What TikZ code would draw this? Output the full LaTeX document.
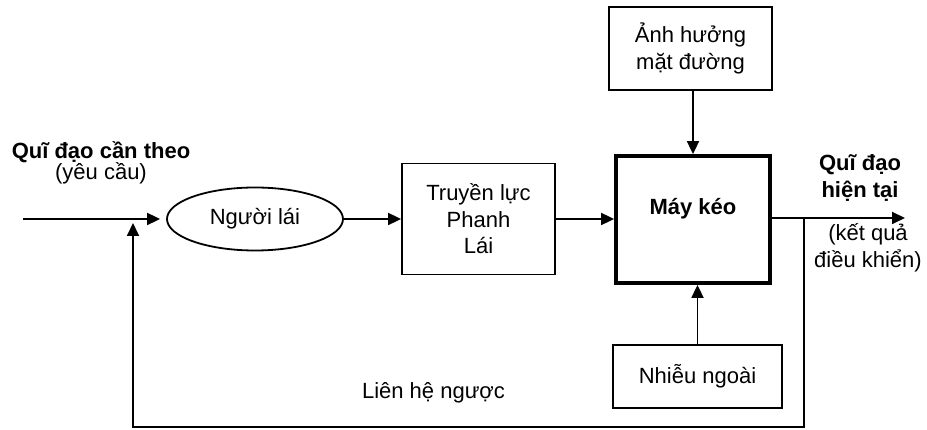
\documentclass[tikz,border=0pt]{standalone}
\usepackage{fontspec}
\setmainfont{Liberation Sans}
\usetikzlibrary{arrows.meta,shapes.geometric,calc}
\begin{document}
\begin{tikzpicture}[x=1pt,y=-1pt,
  every node/.style={font=\fontsize{22}{26.5}\selectfont, inner sep=0pt, align=center},
  blk/.style={draw, line width=1.8pt, rectangle},
  link/.style={line width=1.8pt, -{Triangle[length=13pt,width=12pt]}}]
  \useasboundingbox (0,0) rectangle (927,430);

  % blocks
  \node[draw, line width=1.8pt, ellipse, minimum width=176pt, minimum height=63pt] (drv) at (255,219) {Người lái};
  \node[blk, minimum width=153pt, minimum height=111pt] (tr) at (478.5,219) {Truyền lực\\Phanh\\Lái};
  \node[draw, line width=3.8pt, minimum width=154pt, minimum height=127pt] (mk) at (693,219.5) {};
  \node (mklabel) at (693,209) {\bfseries Máy kéo};
  \node[blk, minimum width=163pt, minimum height=83pt] (road) at (690.5,48.5) {Ảnh hưởng\\mặt đường};
  \node[blk, minimum width=169pt, minimum height=63pt] (noise) at (697.5,376.5) {Nhiễu ngoài};

  % labels
  \node (goal) at (101,152) {\bfseries Quĩ đạo cần theo};
  \node (goalsub) at (101,173) {(yêu cầu)};
  \node (res) at (860,178) {\bfseries Quĩ đạo\\\bfseries hiện tại};
  \node (ressub) at (868,248) {(kết quả\\điều khiển)};
  \node (fblabel) at (433.5,393) {Liên hệ ngược};

  % signal path
  \coordinate (in) at (23,219);
  \coordinate (sum) at (133,223);
  \coordinate (out) at (905,218);
  \coordinate (tap) at (804,218);
  \coordinate (bl) at (133,427);
  \coordinate (br) at (804,427);

  \draw[link, shorten >=6pt] (in) -- (in -| drv.west);
  \draw[link] (drv.east) -- (drv.east -| tr.west);
  \draw[link] (tr.east) -- (tr.east -| mk.west);
  \draw[link] (mk.east |- out) -- (out);
  \draw[link] (mk.north |- road.south) -- (mk.north);
  \draw[link] (noise.north) -- (noise.north |- mk.south);

  % feedback loop
  \draw[link] (tap) -- (br) -- (bl) -- (sum);
\end{tikzpicture}
\end{document}
